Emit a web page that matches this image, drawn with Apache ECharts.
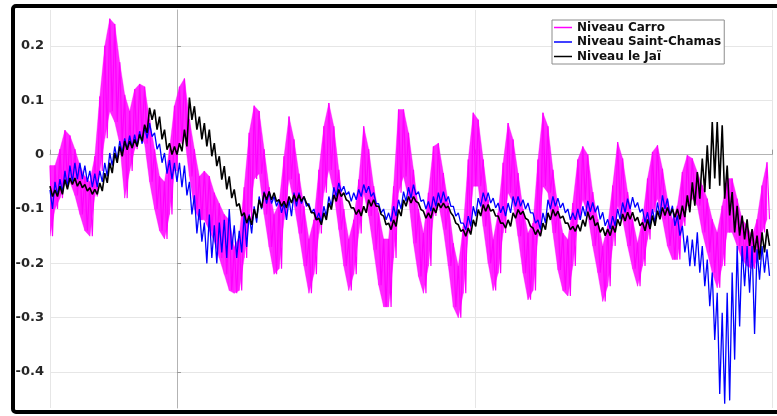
<!DOCTYPE html>
<html>
<head>
<meta charset="utf-8">
<script src="https://cdn.jsdelivr.net/npm/echarts@6/dist/echarts.min.js"></script>
<style>
  html, body { margin: 0; padding: 0; background: #fff; }
  #chart { width: 777px; height: 416px; }
</style>
</head>
<body>
<div id="chart"></div>
<script>
// Water level records (m), one reading pair every 2 h: the top and the bottom
// of the noisy band at that time. Time in hours relative to the first day mark.
const T_START = -51;
const T_STEP = 2;

const seriesNames = ['Niveau Carro', 'Niveau Saint-Chamas', 'Niveau le Jaï'];

const carroHigh = [
  -0.02, -0.02, 0.01, 0.045, 0.035, 0.01, -0.02, -0.04, -0.05, -0.003,
  0.107, 0.2, 0.25, 0.24, 0.17, 0.11, 0.08, 0.12, 0.13, 0.125,
  0.065, 0.01, -0.04, -0.05, 0.01, 0.09, 0.125, 0.14, 0.065, 0.01,
  -0.04, -0.03, -0.04, -0.07, -0.09, -0.11, -0.12,
  -0.17, -0.15, -0.06, 0.04, 0.09, 0.08, 0.01, -0.06, -0.11, -0.09,
  -0.003, 0.07, 0.028, -0.035, -0.095, -0.155, -0.12, -0.028, 0.052, 0.095,
  0.052, -0.028, -0.1, -0.155, -0.12, -0.046, 0.052, 0.01, -0.058, -0.107,
  -0.155, -0.155, -0.058, 0.083, 0.083,
  0.04, -0.028, -0.1, -0.144, -0.07, 0.015, 0.021, -0.034, -0.089, -0.163,
  -0.205, -0.132, -0.009, 0.077, 0.064, -0.009, -0.083, -0.156, -0.107, -0.015,
  0.058, 0.028, -0.034, -0.1, -0.144, -0.126, -0.009, 0.077, 0.052, -0.028,
  -0.095, -0.144, -0.156, -0.089, -0.009, 0.015, 0.0,
  -0.069, -0.119, -0.168, -0.131, -0.057, 0.023, -0.007, -0.069, -0.119, -0.162,
  -0.119, -0.044, 0.005, 0.017, -0.026, -0.081, -0.119, -0.094, -0.032, -0.001,
  -0.007, -0.032, -0.057, -0.081, -0.119, -0.143, -0.094, -0.044, -0.044, -0.081,
  -0.119, -0.131, -0.15, -0.119, -0.057, -0.014
];
const carroLow = [
  -0.15, -0.10, -0.08, -0.05, -0.05, -0.075, -0.11, -0.14, -0.15, -0.077,
  -0.03, 0.03, 0.08, 0.06, 0.02, -0.08, -0.03, 0.01, 0.035, 0.02,
  -0.05, -0.10, -0.14, -0.155, -0.11, -0.03, 0.02, 0.035, -0.04, -0.10,
  -0.12, -0.12, -0.14, -0.16, -0.19, -0.22, -0.25,
  -0.255, -0.25, -0.19, -0.12, -0.045, -0.035, -0.11, -0.17, -0.22, -0.21,
  -0.12, -0.045, -0.09, -0.145, -0.205, -0.255, -0.22, -0.145, -0.07, -0.028,
  -0.07, -0.138, -0.205, -0.25, -0.22, -0.145, -0.07, -0.113, -0.175, -0.24,
  -0.28, -0.28, -0.19, -0.07, -0.04,
  -0.08, -0.163, -0.224, -0.255, -0.205, -0.113, -0.089, -0.138, -0.205, -0.28,
  -0.30, -0.255, -0.144, -0.058, -0.058, -0.132, -0.2, -0.25, -0.218, -0.144,
  -0.07, -0.089, -0.15, -0.218, -0.267, -0.25, -0.15, -0.058, -0.07, -0.144,
  -0.212, -0.25, -0.26, -0.205, -0.12, -0.083, -0.11,
  -0.168, -0.217, -0.27, -0.242, -0.168, -0.094, -0.119, -0.168, -0.21, -0.242,
  -0.205, -0.156, -0.106, -0.081, -0.119, -0.168, -0.193, -0.193, -0.131, -0.094,
  -0.081, -0.094, -0.143, -0.18, -0.217, -0.245, -0.205, -0.143, -0.143, -0.168,
  -0.193, -0.205, -0.21, -0.193, -0.143, -0.119
];

const chamasHigh = [
  -0.065, -0.05, -0.045, -0.03, -0.02, -0.015, -0.015, -0.02, -0.03, -0.035,
  -0.03, -0.015, 0.003, 0.015, 0.025, 0.03, 0.035, 0.037, 0.043, 0.052,
  0.058, 0.04, 0.02, 0.003, -0.01, -0.015, -0.015, -0.02, -0.05, -0.075,
  -0.10, -0.125, -0.11, -0.13, -0.125, -0.12, -0.10,
  -0.13, -0.14, -0.11, -0.11, -0.095, -0.077, -0.068, -0.068, -0.077, -0.083,
  -0.09, -0.083, -0.07, -0.07, -0.077, -0.09, -0.1, -0.107, -0.095, -0.077,
  -0.06, -0.052, -0.058, -0.068, -0.07, -0.064, -0.055, -0.058, -0.07, -0.09,
  -0.1, -0.107, -0.095, -0.083, -0.068,
  -0.06, -0.055, -0.068, -0.083, -0.086, -0.077, -0.07, -0.068, -0.077, -0.095,
  -0.107, -0.126, -0.113, -0.095, -0.08, -0.07, -0.07, -0.08, -0.089, -0.095,
  -0.089, -0.077, -0.077, -0.083, -0.089, -0.107, -0.12, -0.107, -0.083, -0.077,
  -0.08, -0.089, -0.1, -0.107, -0.1, -0.095, -0.085,
  -0.088, -0.094, -0.106, -0.119, -0.113, -0.1, -0.088, -0.081, -0.078, -0.088,
  -0.1, -0.106, -0.1, -0.088, -0.075, -0.081, -0.094, -0.112, -0.131, -0.149,
  -0.156, -0.143, -0.168, -0.193, -0.217, -0.254, -0.291, -0.254, -0.217, -0.168,
  -0.168, -0.168, -0.168, -0.174, -0.168, -0.174
];
const chamasLow = [
  -0.10, -0.075, -0.07, -0.06, -0.05, -0.045, -0.045, -0.05, -0.06, -0.06,
  -0.05, -0.04, -0.02, -0.01, 0.003, 0.01, 0.012, 0.015, 0.02, 0.03,
  0.033, 0.01, -0.015, -0.035, -0.045, -0.05, -0.06, -0.075, -0.11, -0.145,
  -0.16, -0.2, -0.19, -0.2, -0.18, -0.19, -0.175,
  -0.19, -0.18, -0.17, -0.145, -0.125, -0.1, -0.09, -0.09, -0.095, -0.107,
  -0.12, -0.113, -0.095, -0.09, -0.095, -0.107, -0.12, -0.126, -0.113, -0.095,
  -0.077, -0.068, -0.074, -0.086, -0.083, -0.077, -0.07, -0.077, -0.09, -0.107,
  -0.12, -0.123, -0.113, -0.1, -0.086,
  -0.08, -0.074, -0.086, -0.1, -0.104, -0.095, -0.089, -0.086, -0.095, -0.113,
  -0.126, -0.138, -0.132, -0.113, -0.095, -0.086, -0.089, -0.098, -0.107, -0.113,
  -0.107, -0.095, -0.095, -0.1, -0.107, -0.126, -0.138, -0.126, -0.1, -0.095,
  -0.098, -0.107, -0.12, -0.12, -0.12, -0.113, -0.105,
  -0.106, -0.119, -0.131, -0.137, -0.131, -0.119, -0.106, -0.1, -0.097, -0.106,
  -0.125, -0.131, -0.125, -0.112, -0.1, -0.112, -0.131, -0.149, -0.18, -0.205,
  -0.205, -0.217, -0.242, -0.279, -0.341, -0.44, -0.458, -0.452, -0.377, -0.316,
  -0.242, -0.254, -0.33, -0.23, -0.217, -0.223
];

const jaiHigh = [
  -0.058, -0.065, -0.058, -0.046, -0.043, -0.043, -0.049, -0.055, -0.061, -0.064,
  -0.052, -0.034, -0.015, 0.003, 0.015, 0.025, 0.025, 0.028, 0.037, 0.055,
  0.086, 0.083, 0.07, 0.046, 0.021, 0.015, 0.021, 0.046, 0.105, 0.089,
  0.07, 0.058, 0.046, 0.021, -0.003, -0.021, -0.04,
  -0.064, -0.09, -0.107, -0.113, -0.1, -0.083, -0.07, -0.068, -0.07, -0.083,
  -0.086, -0.077, -0.074, -0.074, -0.077, -0.095, -0.107, -0.117, -0.107, -0.089,
  -0.074, -0.064, -0.07, -0.086, -0.098, -0.101, -0.095, -0.083, -0.083, -0.095,
  -0.113, -0.126, -0.12, -0.101, -0.083,
  -0.077, -0.077, -0.089, -0.104, -0.107, -0.098, -0.089, -0.089, -0.095, -0.113,
  -0.129, -0.138, -0.135, -0.12, -0.101, -0.092, -0.092, -0.101, -0.113, -0.126,
  -0.12, -0.107, -0.101, -0.104, -0.12, -0.135, -0.138, -0.126, -0.107, -0.101,
  -0.104, -0.113, -0.126, -0.132, -0.129, -0.12, -0.105,
  -0.112, -0.125, -0.134, -0.137, -0.131, -0.119, -0.109, -0.106, -0.106, -0.115,
  -0.125, -0.119, -0.112, -0.103, -0.097, -0.097, -0.1, -0.1, -0.094, -0.075,
  -0.051, -0.032, -0.007, 0.017, 0.06, 0.06, 0.054, -0.02, -0.069, -0.094,
  -0.112, -0.119, -0.137, -0.149, -0.143, -0.137
];
const jaiLow = [
  -0.077, -0.077, -0.073, -0.064, -0.055, -0.058, -0.061, -0.067, -0.073, -0.073,
  -0.067, -0.052, -0.034, -0.015, -0.003, 0.009, 0.012, 0.015, 0.025, 0.04,
  0.064, 0.046, 0.028, 0.009, 0.0, 0.0, 0.006, 0.015, 0.064, 0.046,
  0.028, 0.015, -0.003, -0.021, -0.046, -0.064, -0.08,
  -0.095, -0.113, -0.126, -0.129, -0.117, -0.098, -0.083, -0.083, -0.086, -0.095,
  -0.098, -0.089, -0.086, -0.086, -0.089, -0.107, -0.12, -0.129, -0.12, -0.101,
  -0.086, -0.077, -0.083, -0.098, -0.11, -0.113, -0.107, -0.095, -0.095, -0.11,
  -0.129, -0.138, -0.132, -0.113, -0.095,
  -0.089, -0.086, -0.101, -0.117, -0.117, -0.107, -0.098, -0.098, -0.107, -0.126,
  -0.141, -0.15, -0.147, -0.132, -0.113, -0.104, -0.104, -0.113, -0.126, -0.135,
  -0.132, -0.117, -0.11, -0.117, -0.132, -0.147, -0.15, -0.138, -0.12, -0.113,
  -0.117, -0.126, -0.138, -0.141, -0.141, -0.132, -0.12,
  -0.131, -0.143, -0.149, -0.149, -0.143, -0.131, -0.122, -0.119, -0.122, -0.131,
  -0.14, -0.137, -0.131, -0.119, -0.112, -0.112, -0.115, -0.119, -0.115, -0.106,
  -0.094, -0.081, -0.069, -0.063, -0.044, -0.057, -0.081, -0.112, -0.143, -0.149,
  -0.156, -0.168, -0.18, -0.193, -0.18, -0.168
];

// Interleave the band top and bottom readings into one jagged polyline
function zigzag(high, low) {
  const pts = [];
  for (let i = 0; i < high.length; i++) {
    const t = T_START + i * T_STEP;
    pts.push([t, high[i]]);
    pts.push([t + 1, low[i]]);
  }
  return pts;
}

const colors = ['#ff00ff', '#0000ff', '#000000'];
const widths = [1.2, 1.3, 1.6];
const highs = [carroHigh, chamasHigh, jaiHigh];
const lows = [carroLow, chamasLow, jaiLow];

// Shaded body of the Carro band (its noise is dense enough to look solid)
function bandFill(k) {
  const rows = highs[k].map((h, i) => [T_START + i * T_STEP, h, lows[k][i]]);
  return {
    type: 'custom',
    data: rows,
    encode: { x: 0, y: [1, 2] },
    clip: true,
    silent: true,
    z: 2 + k,
    renderItem: function (params, api) {
      const i = params.dataIndex;
      if (i >= rows.length - 1) return null;
      const nxt = rows[i + 1];
      const p0 = api.coord([api.value(0), api.value(1)]);
      const p1 = api.coord([nxt[0], nxt[1]]);
      const p2 = api.coord([nxt[0], nxt[2]]);
      const p3 = api.coord([api.value(0), api.value(2)]);
      return {
        type: 'polygon',
        shape: { points: [p0, p1, p2, p3] },
        style: { fill: colors[k], stroke: colors[k], lineWidth: 0.4, opacity: 0.85 }
      };
    }
  };
}

const series = [bandFill(0)];
seriesNames.forEach((name, k) => {
  series.push({
    name: name,
    type: 'line',
    data: zigzag(highs[k], lows[k]),
    symbol: 'none',
    showSymbol: false,
    sampling: null,
    silent: true,
    lineStyle: { color: colors[k], width: widths[k] },
    itemStyle: { color: colors[k] },
    z: 2 + k
  });
});

const chart = echarts.init(document.getElementById('chart'), null, { renderer: 'canvas' });

chart.setOption({
  animation: false,
  backgroundColor: '#ffffff',
  color: colors,
  grid: { left: 50, right: 5, top: 10, bottom: 8, containLabel: false },
  graphic: [{
    type: 'rect',
    z: 100,
    silent: true,
    shape: { x: 13, y: 6, width: 900, height: 406, r: 3 },
    style: { fill: 'none', stroke: '#000', lineWidth: 4 }
  }],
  legend: {
    orient: 'vertical',
    left: 552,
    top: 20,
    padding: [1.5, 3, 1.5, 2],
    itemGap: 2.5,
    itemWidth: 18,
    itemHeight: 1.5,
    icon: 'rect',
    borderColor: '#8c8c8c',
    borderWidth: 1,
    backgroundColor: '#ffffff',
    textStyle: {
      fontFamily: 'DejaVu Sans',
      fontWeight: 'bold',
      fontSize: 12,
      lineHeight: 12,
      color: '#111111'
    },
    data: seriesNames
  },
  xAxis: {
    type: 'value',
    min: -51,
    max: 239,
    minInterval: 120,
    maxInterval: 120,
    axisLine: { show: true, lineStyle: { color: '#b3b3b3', width: 1 } },
    axisTick: { show: true, inside: true, length: 5, lineStyle: { color: '#999999' } },
    axisLabel: { show: false },
    splitLine: { show: true, lineStyle: { color: '#e6e6e6', width: 1 } }
  },
  yAxis: {
    type: 'value',
    min: -0.466,
    max: 0.266,
    axisLine: { show: true, lineStyle: { color: '#b3b3b3', width: 1 } },
    axisTick: { show: true, inside: true, length: 4, lineStyle: { color: '#999999' } },
    axisLabel: {
      showMinLabel: false,
      showMaxLabel: false,
      margin: 6,
      fontFamily: 'DejaVu Sans',
      fontWeight: 'bold',
      fontSize: 13,
      color: '#262626'
    },
    splitLine: {
      show: true,
      showMinLine: false,
      showMaxLine: false,
      lineStyle: { color: '#e6e6e6', width: 1 }
    }
  },
  series: series
});
</script>
</body>
</html>
